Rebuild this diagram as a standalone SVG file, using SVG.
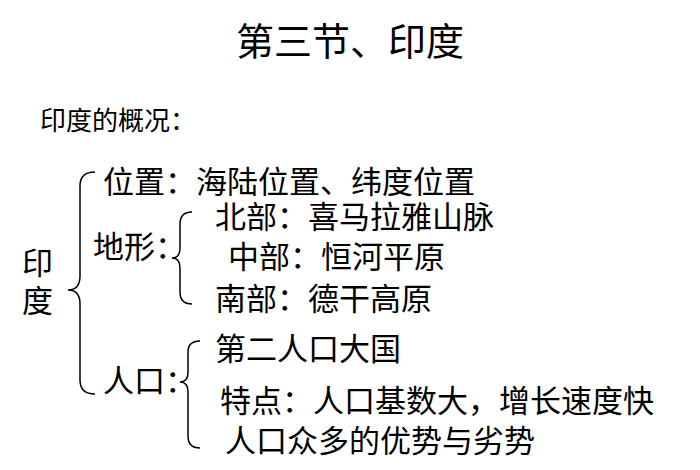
<svg xmlns="http://www.w3.org/2000/svg" width="700" height="470" viewBox="0 0 700 470">
<style>
text{font-family:"Noto Sans CJK SC","Noto Sans",sans-serif;fill:#000;}
.t{font-size:31px;}
.b{fill:none;stroke:#000;stroke-width:1.5;}
</style>
<rect width="700" height="470" fill="#fff"/>
<g id="title"><text x="350" y="55" font-size="38" text-anchor="middle">第三节、印度</text></g>
<g id="sub"><text x="40" y="130" font-size="26">印度的概况：</text></g>
<g id="root"><text x="22" y="274" class="t">印</text><text x="22" y="312" class="t">度</text></g>
<g id="n1"><text x="103" y="193" class="t">位置：海陆位置、纬度位置</text></g>
<g id="n2"><text x="93" y="258" class="t">地形：</text></g>
<g id="n2a"><text x="215" y="228" class="t">北部：喜马拉雅山脉</text></g>
<g id="n2b"><text x="228" y="268" class="t">中部：恒河平原</text></g>
<g id="n2c"><text x="215" y="310" class="t">南部：德干高原</text></g>
<g id="n3"><text x="103" y="392" class="t">人口：</text></g>
<g id="n3a"><text x="215" y="360" class="t">第二人口大国</text></g>
<g id="n3b"><text x="220" y="412" class="t">特点：人口基数大，增长速度快</text></g>
<g id="n3c"><text x="225" y="452" class="t">人口众多的优势与劣势</text></g>
<g id="connectors">
<path class="b" d="M95,172 Q80,172 80,186 L80,276 Q80,290 68,290 Q80,290 80,304 L80,380 Q80,394 95,394"/>
<path class="b" d="M192,212 Q180,212 180,224 L180,248 Q180,258 172,258 Q180,258 180,268 L180,292 Q180,304 192,304"/>
<path class="b" d="M200,341 Q188,341 188,352 L188,372 Q188,382 180,382 Q188,382 188,392 L188,436 Q188,448 200,448"/>
</g>
</svg>
